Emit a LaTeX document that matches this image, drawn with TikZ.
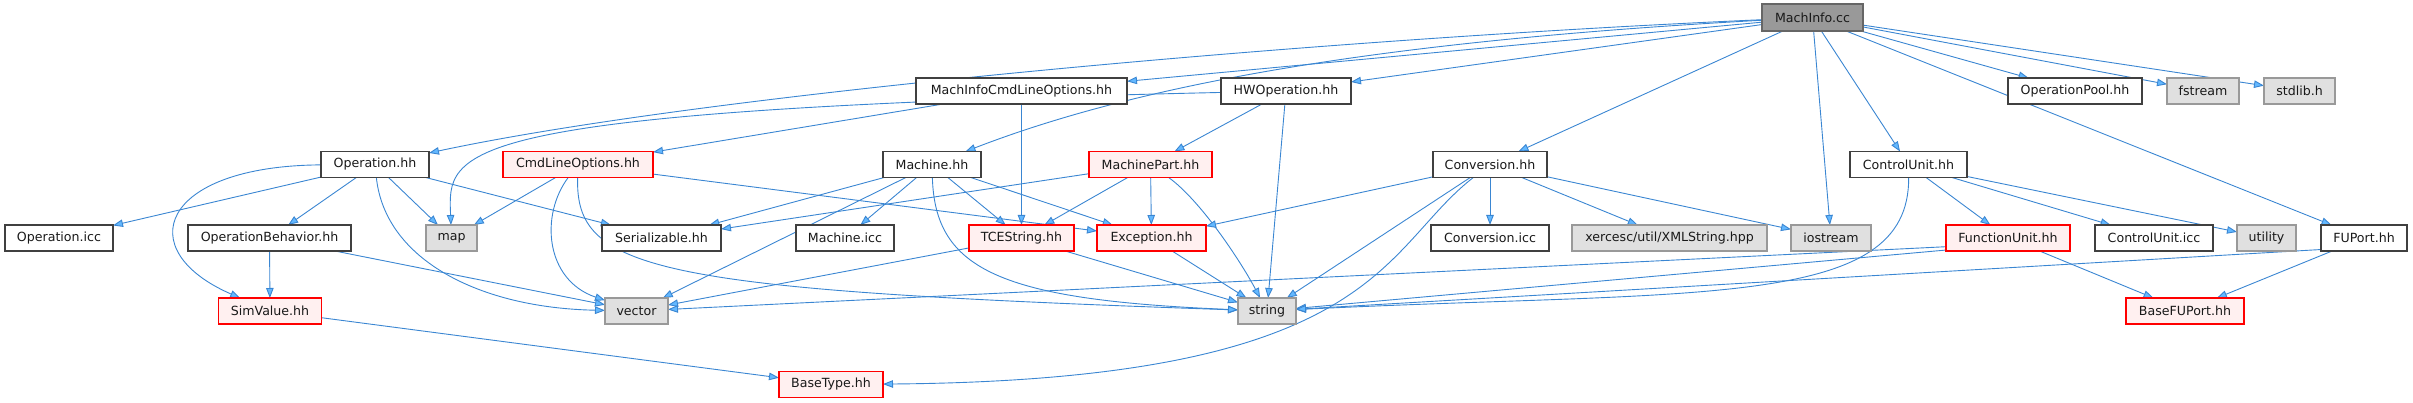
\documentclass[tikz,border=0pt]{standalone}
\usepackage{fontspec}
\setmainfont{DejaVu Sans}
\usetikzlibrary{arrows.meta,backgrounds}
\definecolor{edgeblue}{HTML}{3A86D2}
\definecolor{headblue}{HTML}{63B8FF}
\begin{document}
\begin{tikzpicture}[x=1pt,y=-1pt,
 box/.style={draw,line width=1.2pt,minimum height=26pt,inner sep=0pt,outer sep=0pt,font=\fontsize{12.6}{14}\selectfont,text=black!90},
 w/.style={minimum width=#1pt},
 doc/.style={box,draw=black!75,fill=white}, sys/.style={box,draw=black!40,fill=black!12},
 trunc/.style={box,draw=red,fill=red!6}, root/.style={box,draw=black!60,fill=black!40},
 dep/.style={draw=edgeblue,line width=0.9pt,-{Triangle[length=10pt,width=7.5pt,fill=headblue]}}]
\useasboundingbox (0,0) rectangle (2413,403);
\node[root,w=101,minimum height=27pt] (mi) at (1812.5,17.5) {MachInfo.cc};
\node[doc,w=211] (micl) at (1021.5,91) {MachInfoCmdLineOptions.hh}; \node[doc,w=130] (hwop) at (1286,91) {HWOperation.hh};
\node[doc,w=134] (oppool) at (2075,91) {OperationPool.hh}; \node[sys,w=72] (fstream) at (2203,91) {fstream}; \node[sys,w=71] (stdlib) at (2299.5,91) {stdlib.h};
\node[doc,w=108] (ophh) at (375,164.5) {Operation.hh}; \node[trunc,w=150] (clo) at (578,164.5) {CmdLineOptions.hh};
\node[doc,w=98] (machhh) at (932,164.5) {Machine.hh}; \node[trunc,w=123] (mpart) at (1150.5,164.5) {MachinePart.hh};
\node[doc,w=114] (convhh) at (1490,164.5) {Conversion.hh}; \node[doc,w=117] (cuhh) at (1908.5,164.5) {ControlUnit.hh};
\node[doc,w=108] (opicc) at (59,238) {Operation.icc}; \node[doc,w=163] (opbeh) at (269.5,238) {OperationBehavior.hh};
\node[sys,w=51] (map) at (451.5,238) {map}; \node[doc,w=119] (serial) at (661.5,238) {Serializable.hh};
\node[doc,w=98] (machicc) at (845,238) {Machine.icc}; \node[trunc,w=105] (tcestr) at (1021.5,238) {TCEString.hh};
\node[trunc,w=109] (exc) at (1151.5,238) {Exception.hh}; \node[doc,w=118] (convicc) at (1490,238) {Conversion.icc};
\node[sys,w=195] (xml) at (1669.5,238) {xercesc/util/XMLString.hpp}; \node[sys,w=80] (iostream) at (1831,238) {iostream};
\node[trunc,w=124] (fu) at (2008,238) {FunctionUnit.hh}; \node[doc,w=118] (cuicc) at (2154,238) {ControlUnit.icc};
\node[sys,w=59] (utility) at (2266.5,238) {utility}; \node[doc,w=86] (fuport) at (2364,238) {FUPort.hh};
\node[trunc,w=103] (simval) at (270,311) {SimValue.hh}; \node[sys,w=63] (vector) at (636.5,311) {vector};
\node[sys,w=58] (string) at (1267,311) {string}; \node[trunc,w=118] (basefup) at (2185,311) {BaseFUPort.hh};
\node[trunc,w=104] (basetype) at (831,384.5) {BaseType.hh};
\begin{scope}[on background layer]
\draw[dep] (mi) .. controls (1300,40) and (700,95) .. (ophh);
\draw[dep] (mi) .. controls (1400,40) and (1150,80) .. (machhh);
\draw[dep] (mi) -- (micl); \draw[dep] (mi) -- (hwop); \draw[dep] (mi) -- (convhh); \draw[dep] (mi) -- (iostream);
\draw[dep] (mi) -- (cuhh); \draw[dep] (mi) -- (fuport); \draw[dep] (mi) -- (oppool); \draw[dep] (mi) -- (fstream); \draw[dep] (mi) -- (stdlib);
\draw[dep] (micl) -- (clo); \draw[dep] (micl) -- (tcestr);
\draw[dep] (hwop) .. controls (440,110) and (448,150) .. (map);
\draw[dep] (hwop) -- (mpart); \draw[dep] (hwop) -- (string);
\draw[dep] (ophh) -- (opicc); \draw[dep] (ophh) -- (opbeh); \draw[dep] (ophh) -- (map); \draw[dep] (ophh) -- (serial);
\draw[dep] (ophh) .. controls (160,166) and (130,250) .. (simval);
\draw[dep] (ophh) .. controls (385,260) and (480,308) .. (vector);
\draw[dep] (clo) -- (map); \draw[dep] (clo) -- (exc);
\draw[dep] (clo) .. controls (540,215) and (545,280) .. (vector);
\draw[dep] (clo) .. controls (575,270) and (650,290) .. (string);
\draw[dep] (machhh) -- (serial); \draw[dep] (machhh) -- (vector); \draw[dep] (machhh) -- (machicc);
\draw[dep] (machhh) -- (tcestr); \draw[dep] (machhh) -- (exc);
\draw[dep] (machhh) .. controls (935,270) and (1000,300) .. (string);
\draw[dep] (mpart) -- (serial); \draw[dep] (mpart) -- (tcestr); \draw[dep] (mpart) -- (exc);
\draw[dep] (mpart) .. controls (1200,200) and (1240,260) .. (string);
\draw[dep] (opbeh) -- (simval); \draw[dep] (opbeh) -- (vector); \draw[dep] (simval) -- (basetype);
\draw[dep] (tcestr) -- (vector); \draw[dep] (tcestr) -- (string); \draw[dep] (exc) -- (string);
\draw[dep] (convhh) -- (exc); \draw[dep] (convhh) -- (string); \draw[dep] (convhh) -- (convicc);
\draw[dep] (convhh) -- (xml); \draw[dep] (convhh) -- (iostream);
\draw[dep] (convhh) .. controls (1380,250) and (1380,380) .. (basetype);
\draw[dep] (cuhh) -- (fu); \draw[dep] (cuhh) -- (cuicc); \draw[dep] (cuhh) -- (utility);
\draw[dep] (cuhh) .. controls (1910,310) and (1700,290) .. (string);
\draw[dep] (fu) -- (basefup); \draw[dep] (fu.188) -- (vector); \draw[dep] (fu.191) -- (string);
\draw[dep] (fuport) -- (basefup); \draw[dep] (fuport.195) -- (string);
\end{scope}
\end{tikzpicture}
\end{document}
